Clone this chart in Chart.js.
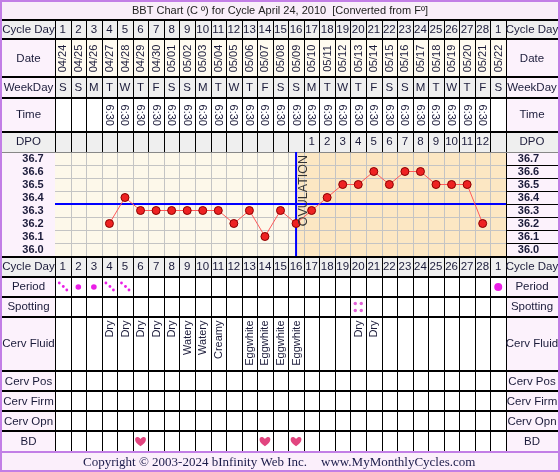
<!DOCTYPE html>
<html>
<head>
<meta charset="utf-8">
<script src="https://cdn.jsdelivr.net/npm/chart.js@4.4.1/dist/chart.umd.min.js"></script>
<style>
  html, body { margin: 0; padding: 0; background: #fff; overflow: hidden; }
  canvas { display: block; }
</style>
</head>
<body>
<canvas id="bbt" width="560" height="472"></canvas>
<script>
// ===== BBT chart data =====
const titleText = 'BBT Chart (C \u00BA) for Cycle April 24, 2010  [Converted from F\u00BA]';
const cycleDays = ['1','2','3','4','5','6','7','8','9','10','11','12','13','14','15','16','17','18','19','20','21','22','23','24','25','26','27','28','1'];
const dates = ['04/24','04/25','04/26','04/27','04/28','04/29','04/30','05/01','05/02','05/03','05/04','05/05','05/06','05/07','05/08','05/09','05/10','05/11','05/12','05/13','05/14','05/15','05/16','05/17','05/18','05/19','05/20','05/21','05/22'];
const weekDays = ['S','S','M','T','W','T','F','S','S','M','T','W','T','F','S','S','M','T','W','T','F','S','S','M','T','W','T','F','S'];
const times = ['','','','6:30','6:30','6:30','6:30','6:30','6:30','6:30','6:30','6:30','6:30','6:30','6:30','6:30','6:30','6:30','6:30','6:30','6:30','6:30','6:30','6:30','6:30','6:30','6:30','6:30',''];
const dpo = ['','','','','','','','','','','','','','','','','1','2','3','4','5','6','7','8','9','10','11','12',''];
const temps = [null,null,null,36.2,36.4,36.3,36.3,36.3,36.3,36.3,36.3,36.2,36.3,36.1,36.3,36.2,36.3,36.4,36.5,36.5,36.6,36.5,36.6,36.6,36.5,36.5,36.5,36.2,null];
const tempTicks = [36.7, 36.6, 36.5, 36.4, 36.3, 36.2, 36.1, 36.0];
const coverline = 36.35;
const ovulationDay = 16;
// period: 'light' = spotty dots, 'medium' / 'heavy' = solid dot
const period = ['light','medium','medium','light','light','','','','','','','','','','','','','','','','','','','','','','','','heavy'];
const spotting = ['','','','','','','','','','','','','','','','','','','','x','','','','','','','','',''];
const cervFluid = ['','','','Dry','Dry','Dry','Dry','Dry','Watery','Watery','Creamy','','Eggwhite','Eggwhite','Eggwhite','Eggwhite','','','','Dry','Dry','','','','','','','',''];
const cervPos = new Array(29).fill('');
const cervFirm = new Array(29).fill('');
const cervOpn = new Array(29).fill('');
const bd = ['','','','','','x','','','','','','','','x','','x','','','','','','','','','','','','',''];

const TEXT = '#1b1b3a';
const GREY = '#efefef';
const PINK = '#fcf2fc';
const DATE_BG = '#fffbf0';
const FONT = '"Liberation Sans", Arial, sans-serif';

// table rows above and below the temperature grid
const tableRows = [
    { label: 'Cycle Day', t: 20, b: 39, lbg: GREY, dbg: GREY, values: cycleDays },
    { label: 'Date', t: 39, b: 77, lbg: PINK, dbg: DATE_BG, values: dates, rot: -1 },
    { label: 'WeekDay', t: 77, b: 98, lbg: PINK, dbg: GREY, values: weekDays },
    { label: 'Time', t: 98, b: 131.5, lbg: PINK, dbg: '#ffffff', values: times, rot: 1 },
    { label: 'DPO', t: 131.5, b: 152, lbg: GREY, dbg: GREY, values: dpo },
    { label: 'Cycle Day', t: 256.5, b: 276.5, lbg: GREY, dbg: GREY, values: cycleDays },
    { label: 'Period', t: 276.5, b: 296.5, lbg: PINK, dbg: '#ffffff', kind: 'period', values: period },
    { label: 'Spotting', t: 296.5, b: 316.5, lbg: PINK, dbg: '#ffffff', kind: 'spot', values: spotting },
    { label: 'Cerv Fluid', t: 316.5, b: 371, lbg: PINK, dbg: '#ffffff', kind: 'fluid', values: cervFluid },
    { label: 'Cerv Pos', t: 371, b: 391, lbg: PINK, dbg: '#ffffff', values: cervPos },
    { label: 'Cerv Firm', t: 391, b: 411, lbg: PINK, dbg: '#ffffff', values: cervFirm },
    { label: 'Cerv Opn', t: 411, b: 431, lbg: PINK, dbg: '#ffffff', values: cervOpn },
    { label: 'BD', t: 431, b: 451.5, lbg: PINK, dbg: '#ffffff', kind: 'bd', values: bd }
];

function heart(ctx, cx, cy, s) {
    ctx.beginPath();
    ctx.moveTo(cx, cy + s * 0.45);
    ctx.bezierCurveTo(cx - s * 0.95, cy - s * 0.1, cx - s * 0.45, cy - s * 0.8, cx, cy - s * 0.28);
    ctx.bezierCurveTo(cx + s * 0.45, cy - s * 0.8, cx + s * 0.95, cy - s * 0.1, cx, cy + s * 0.45);
    ctx.fill();
}

function dot(ctx, x, y, r) {
    ctx.beginPath();
    ctx.arc(x, y, r, 0, Math.PI * 2);
    ctx.fill();
}

const tablePlugin = {
    id: 'bbtTable',
    beforeDraw(chart) {
        const { ctx, chartArea: a, scales: { x, y } } = chart;
        const W = chart.width, H = chart.height;
        const n = cycleDays.length;
        const L = a.left, Rr = a.right;
        ctx.save();
        ctx.fillStyle = '#ffffff';
        ctx.fillRect(0, 0, W, H);

        // title + footer bands
        ctx.fillStyle = '#f9eef9';
        ctx.fillRect(0, 0, W, 20);
        ctx.fillStyle = '#fbeffb';
        ctx.fillRect(0, 451.5, W, H - 451.5);

        // row backgrounds
        tableRows.forEach(r => {
            ctx.fillStyle = r.lbg;
            ctx.fillRect(0, r.t, L, r.b - r.t);
            ctx.fillRect(Rr, r.t, W - Rr, r.b - r.t);
            ctx.fillStyle = r.dbg;
            ctx.fillRect(L, r.t, Rr - L, r.b - r.t);
        });

        // temperature label columns
        ctx.fillStyle = PINK;
        ctx.fillRect(0, a.top, L, a.bottom - a.top);
        ctx.fillRect(Rr, a.top, W - Rr, a.bottom - a.top);

        // chart area shading: follicular / luteal
        const ovX = x.getPixelForValue(ovulationDay);
        ctx.fillStyle = '#fdf8ea';
        ctx.fillRect(L, a.top, ovX - L, a.bottom - a.top);
        ctx.fillStyle = '#fce7c3';
        ctx.fillRect(ovX, a.top, Rr - ovX, a.bottom - a.top);

        // grid
        ctx.strokeStyle = '#c4c4c4';
        ctx.lineWidth = 1;
        ctx.beginPath();
        for (let d = 1; d < n; d++) {
            const px = Math.round(x.getPixelForValue(d + 0.5)) + 0.5;
            ctx.moveTo(px, a.top); ctx.lineTo(px, a.bottom);
        }
        tempTicks.forEach(t => {
            const py = Math.round(y.getPixelForValue(t + 0.05)) + 0.5;
            ctx.moveTo(L, py); ctx.lineTo(Rr, py);
        });
        ctx.stroke();

        // right temp label cell borders
        ctx.strokeStyle = '#000';
        ctx.beginPath();
        tempTicks.forEach(t => {
            const py = Math.round(y.getPixelForValue(t - 0.05)) + 0.5;
            ctx.moveTo(Rr, py); ctx.lineTo(W, py);
        });
        ctx.stroke();

        // table column lines
        ctx.strokeStyle = '#000';
        ctx.lineWidth = 1;
        ctx.beginPath();
        tableRows.forEach(r => {
            for (let d = 0; d <= n; d++) {
                const px = Math.round(x.getPixelForValue(d + 0.5)) + 0.5;
                ctx.moveTo(px, r.t); ctx.lineTo(px, r.b);
            }
        });
        ctx.moveTo(Math.round(Rr) + 0.5, a.top); ctx.lineTo(Math.round(Rr) + 0.5, a.bottom);
        ctx.stroke();

        // row separators
        ctx.lineWidth = 2;
        ctx.beginPath();
        [20, 39, 77, 98, 131.5, 256.5, 276.5, 296.5, 316.5, 371, 391, 411, 431].forEach(yy => {
            const py = Math.round(yy);
            ctx.moveTo(0, py); ctx.lineTo(W, py);
        });
        ctx.stroke();
        ctx.lineWidth = 1;
        ctx.strokeStyle = '#888';
        ctx.beginPath();
        ctx.moveTo(0, 152.5); ctx.lineTo(W, 152.5);
        ctx.stroke();

        // row labels + cell contents
        ctx.fillStyle = TEXT;
        ctx.textBaseline = 'middle';
        tableRows.forEach(r => {
            const cy = (r.t + r.b) / 2 + 0.5;
            ctx.font = '11.5px ' + FONT;
            ctx.textAlign = 'center';
            ctx.fillStyle = TEXT;
            ctx.fillText(r.label, 28.5, cy);
            ctx.fillText(r.label, 532, cy);
            r.values.forEach((v, i) => {
                if (!v) return;
                const cx = x.getPixelForValue(i + 1);
                if (r.kind === 'period') {
                    ctx.fillStyle = '#ea1ee6';
                    if (v === 'light') {
                        dot(ctx, cx - 3.5, cy - 4, 1.4);
                        dot(ctx, cx + 0.5, cy - 0.5, 1.4);
                        dot(ctx, cx + 4, cy + 3, 1.4);
                    } else {
                        dot(ctx, cx, cy, v === 'heavy' ? 4 : 2.8);
                    }
                } else if (r.kind === 'spot') {
                    ctx.fillStyle = '#e262d8';
                    [[-3, -3.5], [3, -3.5], [-3, 3.5], [3, 3.5]].forEach(o => dot(ctx, cx + o[0], cy + o[1], 1.7));
                } else if (r.kind === 'bd') {
                    ctx.fillStyle = '#e2457f';
                    heart(ctx, cx, cy, 10);
                } else if (r.kind === 'fluid') {
                    ctx.save();
                    ctx.fillStyle = TEXT;
                    ctx.font = '11px ' + FONT;
                    ctx.translate(cx, r.t + 4);
                    ctx.rotate(-Math.PI / 2);
                    ctx.textAlign = 'right';
                    ctx.fillText(v, 0, 0.5);
                    ctx.restore();
                } else if (r.rot) {
                    ctx.save();
                    ctx.fillStyle = TEXT;
                    ctx.font = '11px ' + FONT;
                    ctx.translate(cx, cy);
                    ctx.rotate(r.rot * Math.PI / 2);
                    ctx.textAlign = 'center';
                    ctx.fillText(v, 0, 0.5);
                    ctx.restore();
                } else {
                    ctx.fillStyle = TEXT;
                    ctx.font = '11.5px ' + FONT;
                    ctx.fillText(v, cx, cy);
                }
            });
        });

        // temperature labels
        ctx.fillStyle = TEXT;
        ctx.font = 'bold 11px ' + FONT;
        ctx.textAlign = 'center';
        tempTicks.forEach(t => {
            const py = y.getPixelForValue(t) + 0.5;
            ctx.fillText(t.toFixed(1), 33, py);
            ctx.fillText(t.toFixed(1), 528.5, py);
        });

        // title
        ctx.font = '11px ' + FONT;
        ctx.fillStyle = '#222';
        ctx.fillText(titleText, 280, 10.5);

        // footer
        ctx.strokeStyle = '#c27ee6';
        ctx.lineWidth = 2;
        ctx.beginPath();
        ctx.moveTo(0, 452); ctx.lineTo(W, 452);
        ctx.stroke();
        ctx.fillStyle = '#1b1b4a';
        ctx.font = '13px "Liberation Serif", "Times New Roman", serif';
        ctx.textAlign = 'left';
        ctx.fillText('Copyright \u00A9 2003-2024 bInfinity Web Inc.', 83, 462.5);
        ctx.fillText('www.MyMonthlyCycles.com', 321, 462.5);

        // outer border
        ctx.strokeStyle = '#c27ee6';
        ctx.lineWidth = 2;
        ctx.strokeRect(1, 1, W - 2, H - 2);
        ctx.restore();
    },
    afterDatasetsDraw(chart) {
        const { ctx, chartArea: a, scales: { x } } = chart;
        ctx.save();
        ctx.fillStyle = '#333';
        ctx.font = '12.5px ' + FONT;
        ctx.translate(x.getPixelForValue(ovulationDay) + 7, a.top + 3);
        ctx.rotate(-Math.PI / 2);
        ctx.textAlign = 'right';
        ctx.textBaseline = 'middle';
        ctx.fillText('OVULATION', 0, 0);
        ctx.restore();
    }
};

new Chart(document.getElementById('bbt'), {
    type: 'line',
    data: {
        datasets: [
            {
                label: 'BBT',
                data: temps.map((t, i) => ({ x: i + 1, y: t })),
                borderColor: '#ff5a5a',
                borderWidth: 1,
                pointRadius: 4,
                pointBackgroundColor: '#ee2222',
                pointBorderColor: '#8a0000',
                pointBorderWidth: 1,
                spanGaps: false,
                order: 0
            },
            {
                label: 'Coverline',
                data: [{ x: 0.5, y: coverline }, { x: cycleDays.length + 0.5, y: coverline }],
                borderColor: '#0000ff',
                borderWidth: 2,
                pointRadius: 0,
                order: 1
            },
            {
                label: 'Ovulation',
                data: [{ x: ovulationDay, y: 35.95 }, { x: ovulationDay, y: 36.75 }],
                borderColor: '#0000ff',
                borderWidth: 2,
                pointRadius: 0,
                order: 1
            }
        ]
    },
    options: {
        responsive: false,
        devicePixelRatio: 1,
        animation: false,
        layout: { padding: { left: 55, right: 54, top: 152, bottom: 216 } },
        plugins: { legend: { display: false }, tooltip: { enabled: false } },
        scales: {
            x: { type: 'linear', min: 0.5, max: cycleDays.length + 0.5, display: false },
            y: { type: 'linear', min: 35.95, max: 36.75, display: false }
        }
    },
    plugins: [tablePlugin]
});
</script>
</body>
</html>
